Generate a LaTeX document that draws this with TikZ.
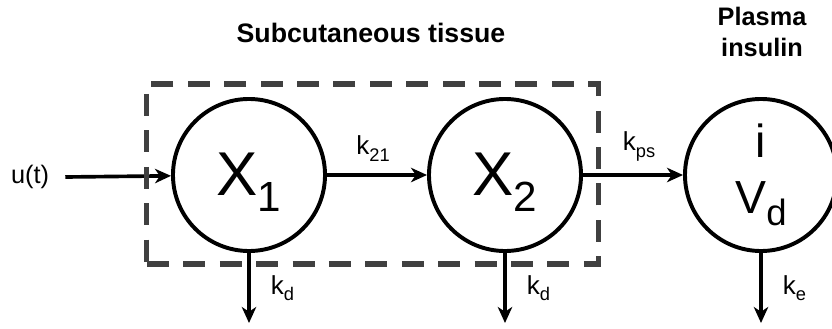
\documentclass[tikz,border=0pt]{standalone}
\usepackage{fontspec}
\setmainfont{Liberation Sans}
\usetikzlibrary{arrows.meta,positioning}
\definecolor{boxgray}{HTML}{404040}
\newcommand{\lbl}[2]{{\fontsize{18.5}{18.5}\selectfont #1\raisebox{-0.16cm}{\fontsize{13}{13}\selectfont #2}}}

\begin{document}
\begin{tikzpicture}[x=0.025cm,y=-0.025cm,>={Stealth[length=4mm,width=3.6mm,inset=1.2mm]},
  comp/.style={circle,draw,line width=2.8pt,minimum size=3.8cm,inner sep=0pt},
  xcomp/.style={comp,text height=1.3cm,text depth=0.3cm},
  flow/.style={->,line width=2.6pt},
  dashbox/.style={draw=boxgray,line width=3.6pt,dash pattern=on 5.5mm off 3.6mm,minimum width=11.275cm,minimum height=4.5cm,inner sep=0pt},
  title/.style={font=\bfseries\fontsize{19}{22}\selectfont,inner sep=0pt,align=center},
  rate/.style={inner sep=0pt}]
\useasboundingbox (0,0) rectangle (832,328);
% compartments
\node[xcomp] (x1) at (249,175) {\fontsize{44}{44}\selectfont X\raisebox{-0.42cm}{\fontsize{30}{30}\selectfont 1}};
\node[xcomp] (x2) at (505,175) {\fontsize{44}{44}\selectfont X\raisebox{-0.42cm}{\fontsize{30}{30}\selectfont 2}};
\node[comp,align=center,font=\fontsize{33}{40}\selectfont] (ins) at (761,175) {i\\V\raisebox{-0.3cm}{\fontsize{26}{26}\selectfont d}};
\node[rate,font=\fontsize{18}{18}\selectfont] (u) at (30,177) {u(t)};
\coordinate (o1) at (249,323);\coordinate (o2) at (505,323);\coordinate (o3) at (761,323);
% flows
\draw[flow] (u.east)++(16,0) coordinate (u0) -- (x1);
\draw[flow] (x1) -- node[rate,above=0.3cm,xshift=-0.1cm] (k21) {\lbl{k}{21}} (x2);
\draw[flow] (x2) -- node[rate,above=0.3cm,xshift=0.15cm] (kps) {\lbl{k}{ps}} (ins);
\draw[flow] (x1) -- node[rate,right=0.5cm] (kd1) {\lbl{k}{d}} (o1);
\draw[flow] (x2) -- node[rate,right=0.5cm] (kd2) {\lbl{k}{d}} (o2);
\draw[flow] (ins) -- node[rate,right=0.5cm] (ke) {\lbl{k}{e}} (o3);
\node[dashbox] (sub) at (372.5,174) {};
\node[title,anchor=base] (subt) at (371,43) {Subcutaneous tissue};
\node[title,anchor=north,font=\bfseries\fontsize{18}{22}\selectfont] (plas) at (762,7) {Plasma\\insulin};
\end{tikzpicture}
\end{document}
